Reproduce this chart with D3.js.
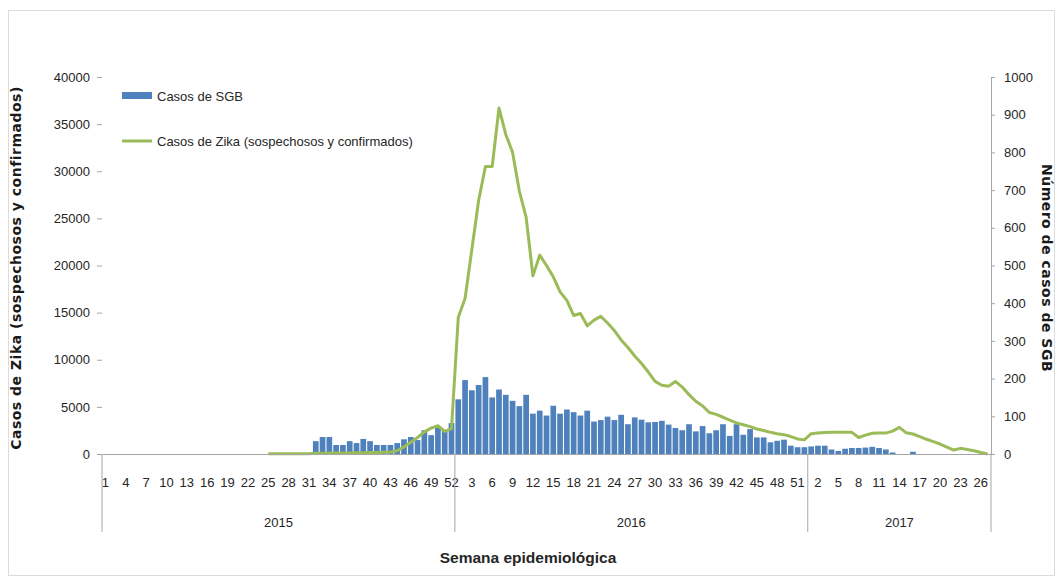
<!DOCTYPE html>
<html>
<head>
<meta charset="utf-8">
<script src="https://d3js.org/d3.v7.min.js"></script>
<style>
body { margin: 0; background: #fff; }
text { font-family: "Liberation Sans", Arial, sans-serif; fill: #262626; }
.tick text { font-size: 13px; }
.titulo { font-family: "DejaVu Sans", sans-serif; font-weight: bold; font-size: 14px; letter-spacing: 0.5px; fill: #1a1a1a; }
</style>
</head>
<body>
<div id="chart"></div>
<script>
const width = 1063
const height = 578
const margin = {top: 77, bottom: 124, left: 102, right: 72}
const innerW = width - margin.left - margin.right
const innerH = height - margin.top - margin.bottom

const years = ["2015", "2016", "2017"]
const weeksPerYear = [52, 52, 27]
const leftTicks = [0, 5000, 10000, 15000, 20000, 25000, 30000, 35000, 40000]
const rightTicks = [0, 100, 200, 300, 400, 500, 600, 700, 800, 900, 1000]

// casos de SGB por semana (eje derecho)
const sgb2015 = [0, 0, 0, 0, 0, 0, 0, 0, 0, 0, 0, 0, 0, 0, 0, 0, 0, 0, 0, 0, 0, 0, 0, 0, 0, 0, 0, 0, 0, 0, 0,
    34, 45, 45, 24, 24, 34, 29, 40, 34, 24, 24, 24, 29, 39, 45, 37, 63, 50, 72, 63, 82]
const sgb2016 = [145, 196, 169, 183, 204, 150, 171, 157, 141, 127, 157, 107, 115, 102, 128, 107, 118, 111, 102, 115,
    86, 90, 99, 90, 104, 79, 97, 91, 84, 85, 88, 78, 69, 63, 79, 60, 74, 55, 63, 79,
    48, 79, 51, 66, 44, 44, 31, 35, 38, 22, 18, 18]
const sgb2017 = [20, 22, 22, 12, 8, 14, 16, 16, 17, 19, 16, 12, 4, 0, 0, 6, 0, 0, 0, 0, 0, 0, 0, 0, 0, 0, 0]

// casos de Zika por semana (eje izquierdo)
const zika2015 = [null, null, null, null, null, null, null, null, null, null, null, null, null, null, null, null,
    null, null, null, null, null, null, null, null,
    30, 30, 30, 30, 30, 30, 30, 80, 80, 100, 100, 100, 100, 120, 120, 150, 150, 180,
    200, 350, 750, 1250, 1750, 2350, 2750, 3000, 2400, 2700]
const zika2016 = [14500, 16500, 21700, 26900, 30500, 30500, 36700, 33900, 32000, 27900,
    25100, 18900, 21100, 20000, 18800, 17200, 16300, 14700, 14900, 13600,
    14200, 14600, 13900, 13100, 12100, 11300, 10400, 9600, 8700, 7700,
    7300, 7200, 7700, 7100, 6300, 5600, 5100, 4400, 4200, 3900,
    3600, 3300, 3100, 2900, 2650, 2500, 2300, 2150, 2050, 1850, 1600, 1500]
const zika2017 = [2150, 2220, 2280, 2300, 2300, 2300, 2300, 1750, 2000, 2200, 2220, 2220, 2430, 2830,
    2250, 2120, 1850, 1560, 1320, 1060, 740, 420, 600, 480, 350, 160, 0]

const categories = []
years.forEach((yr, k) => d3.range(1, weeksPerYear[k] + 1).forEach(w => categories.push(yr + "-" + w)))
const sgb = [...sgb2015, ...sgb2016, ...sgb2017]
const zika = [...zika2015, ...zika2016, ...zika2017]
const data = categories.map((c, i) => ({key: c, week: +c.split("-")[1], sgb: sgb[i], zika: zika[i]}))

const svg = d3.select("div#chart").append("svg").attr("width", width).attr("height", height)
svg.append("rect").attr("x", 8.5).attr("y", 10.5).attr("width", 1046).attr("height", 565)
    .attr("fill", "none").attr("stroke", "#dcdcdc")

const elementGroup = svg.append("g").attr("transform", `translate(${margin.left}, ${margin.top})`)
const axisGroup = svg.append("g").attr("transform", `translate(${margin.left}, ${margin.top})`)

const x = d3.scaleBand().domain(categories).range([0, innerW]).paddingInner(0.16).paddingOuter(0.08)
const yL = d3.scaleLinear().domain([0, 40000]).range([innerH, 0])
const yR = d3.scaleLinear().domain([0, 1000]).range([innerH, 0])

// barras SGB
elementGroup.selectAll("rect.sgb").data(data.filter(d => d.sgb > 0)).enter().append("rect")
    .attr("class", "sgb")
    .attr("x", d => x(d.key))
    .attr("y", d => yR(d.sgb))
    .attr("width", x.bandwidth())
    .attr("height", d => innerH - yR(d.sgb))
    .attr("fill", "#4f81bd")

// linea Zika
const line = d3.line().defined(d => d.zika != null)
    .x(d => x(d.key) + x.bandwidth() / 2)
    .y(d => yL(d.zika))
elementGroup.append("path").datum(data).attr("d", line)
    .attr("fill", "none").attr("stroke", "#9bbb59").attr("stroke-width", 3).attr("stroke-linejoin", "round")

// ejes
const leftAxis = d3.axisLeft(yL).tickValues(leftTicks).tickSize(5).tickPadding(7).tickFormat(d3.format("d"))
const rightAxis = d3.axisRight(yR).tickValues(rightTicks).tickSize(4).tickPadding(9).tickSizeOuter(0)
    .tickFormat(d3.format("d"))
const bottomAxis = d3.axisBottom(x).tickValues(categories.filter((c, i) => i % 3 == 0))
    .tickFormat(c => c.split("-")[1]).tickSize(0).tickPadding(24).tickSizeOuter(0)

const yLGroup = axisGroup.append("g").call(leftAxis)
yLGroup.select(".domain").remove()
const yRGroup = axisGroup.append("g").attr("transform", `translate(${innerW}, 0)`).call(rightAxis)
const xGroup = axisGroup.append("g").attr("transform", `translate(0, ${innerH})`).call(bottomAxis)
axisGroup.selectAll(".domain, .tick line").attr("stroke", "#a6a6a6")
axisGroup.selectAll(".tick text").attr("fill", "#262626")

// separadores por año
let start = 0
years.forEach((yr, k) => {
    const x0 = x.step() * start
    const x1 = x.step() * (start + weeksPerYear[k])
    xGroup.append("line").attr("x1", x0).attr("x2", x0).attr("y1", 0).attr("y2", 78).attr("stroke", "#a6a6a6")
    xGroup.append("text").attr("x", (x0 + x1) / 2).attr("y", 68).attr("dy", "0.35em")
        .attr("text-anchor", "middle").attr("font-size", 13).text(yr)
    start += weeksPerYear[k]
})
xGroup.append("line").attr("x1", innerW).attr("x2", innerW).attr("y1", 0).attr("y2", 78).attr("stroke", "#a6a6a6")

// titulos
svg.append("text").attr("class", "titulo").text("Casos de Zika (sospechosos y confirmados)")
    .attr("transform", "translate(16, 268) rotate(-90)").attr("text-anchor", "middle").attr("dy", "0.35em")
svg.append("text").attr("class", "titulo").text("Número de casos de SGB")
    .attr("transform", "translate(1047, 268) rotate(90)").attr("text-anchor", "middle").attr("dy", "0.35em")
svg.append("text").text("Semana epidemiológica")
    .attr("x", 528).attr("y", 558).attr("dy", "0.35em").attr("text-anchor", "middle")
    .attr("font-size", 15.5).attr("font-weight", "bold").attr("fill", "#1a1a1a")

// leyenda
const legend = svg.append("g")
legend.append("rect").attr("x", 122).attr("y", 92).attr("width", 30).attr("height", 7).attr("fill", "#4f81bd")
legend.append("text").attr("x", 157).attr("y", 96).attr("dy", "0.35em").attr("font-size", 13).text("Casos de SGB")
legend.append("line").attr("x1", 122).attr("x2", 152).attr("y1", 141).attr("y2", 141)
    .attr("stroke", "#9bbb59").attr("stroke-width", 3)
legend.append("text").attr("x", 157).attr("y", 141).attr("dy", "0.35em").attr("font-size", 13)
    .text("Casos de Zika (sospechosos y confirmados)")
</script>
</body>
</html>
